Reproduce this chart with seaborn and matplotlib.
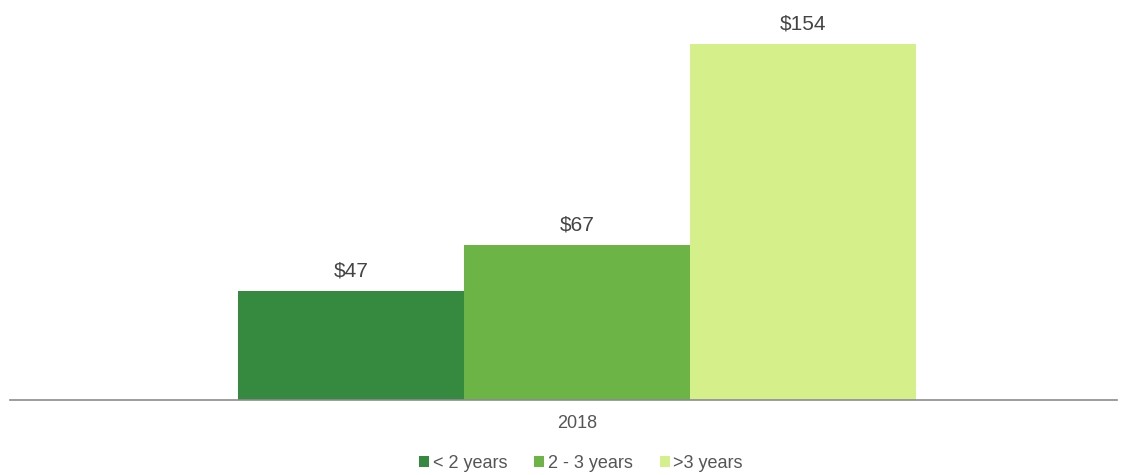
import matplotlib
matplotlib.use("Agg")
import matplotlib.pyplot as plt
import seaborn as sns
import pandas as pd

# Average value by tenure group, 2018
years = ["2018"]
groups = ["< 2 years", "2 - 3 years", ">3 years"]
values = [47, 67, 154]
colors = ["#358a40", "#6db446", "#d5ef8b"]

df = pd.DataFrame({"year": years * len(groups), "group": groups, "value": values})

sns.set_theme(style="white")
plt.rcParams["font.family"] = ["Liberation Sans", "DejaVu Sans"]

fig = plt.figure(figsize=(11.47, 4.75), dpi=100)
ax = fig.add_axes([10 / 1147, 75 / 475, 1107 / 1147, 390 / 475])

sns.barplot(data=df, x="year", y="value", hue="group",
            palette=colors, width=0.8, saturation=1, ax=ax, legend=True,
            linewidth=0)

for container, v in zip(ax.containers, values):
    ax.bar_label(container, labels=[f"${v}"], padding=8, fontsize=15, color="#444444")

ax.set_xlim(-0.669, 0.637)
ax.set_ylim(0, 168.8)
ax.set_xlabel("")
ax.set_ylabel("")
ax.set_yticks([])
for s in ["top", "right", "left"]:
    ax.spines[s].set_visible(False)
ax.spines["bottom"].set_color("#8c8c8c")
ax.spines["bottom"].set_linewidth(1.2)
ax.tick_params(axis="x", length=0, labelsize=13, labelcolor="#555555", pad=11)

leg = ax.legend(loc="center", bbox_to_anchor=(581 / 1147, 12 / 475),
                bbox_transform=fig.transFigure, ncol=3, frameon=False,
                fontsize=13, handlelength=0.55, handleheight=0.55,
                handletextpad=0.2, columnspacing=1.5)
for t in leg.get_texts():
    t.set_color("#555555")

fig.savefig("out.png", dpi=100)
